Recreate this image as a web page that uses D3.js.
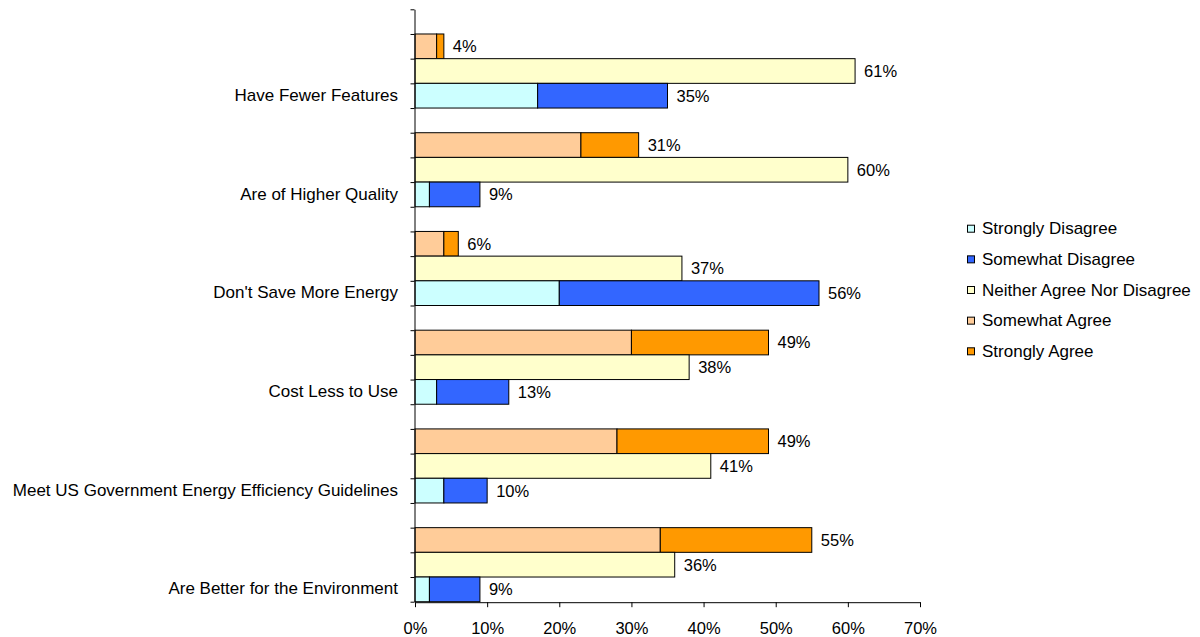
<!DOCTYPE html>
<html>
<head>
<meta charset="utf-8">
<script src="https://cdn.jsdelivr.net/npm/d3@7/dist/d3.min.js"></script>
<style>
  html, body { margin: 0; padding: 0; background: #fff; }
  svg { display: block; font-family: "Liberation Sans", Arial, sans-serif; }
</style>
</head>
<body>
<svg id="chart" width="1200" height="637"></svg>
<script>
// Survey statements, listed top to bottom
const categories = [
  "Have Fewer Features",
  "Are of Higher Quality",
  "Don't Save More Energy",
  "Cost Less to Use",
  "Meet US Government Energy Efficiency Guidelines",
  "Are Better for the Environment"
];

// Response shares (%) per statement
const stronglyDisagree = [17, 2, 20, 3, 4, 2];
const somewhatDisagree = [18, 7, 36, 10, 6, 7];
const neitherAgree     = [61, 60, 37, 38, 41, 36];
const somewhatAgree    = [3, 23, 4, 30, 28, 34];
const stronglyAgree    = [1, 8, 2, 19, 21, 21];

const seriesNames = ["Strongly Disagree", "Somewhat Disagree", "Neither Agree Nor Disagree", "Somewhat Agree", "Strongly Agree"];
const seriesColors = ["#CCFFFF", "#3366FF", "#FFFFCC", "#FFCC99", "#FF9900"];

const xTicks = [0, 10, 20, 30, 40, 50, 60, 70];

// Each statement occupies four rows: spacer, agree stack, neutral, disagree stack
const rowKinds = ["spacer", "agree", "neither", "disagree"];

const svg = d3.select("#chart");
const plotLeft = 415, plotRight = 920, plotTop = 9.3, plotBottom = 601.7;

const x = d3.scaleLinear().domain([0, 70]).range([plotLeft, plotRight]);
const rows = d3.scaleLinear().domain([0, categories.length * rowKinds.length]).range([plotTop, plotBottom]);
const rowH = rows(1) - rows(0);

// Build stacked segments
const segments = [];
const totals = [];
categories.forEach((c, i) => {
  const base = i * rowKinds.length;
  const stacks = {
    agree:    [[somewhatAgree[i], 3], [stronglyAgree[i], 4]],
    neither:  [[neitherAgree[i], 2]],
    disagree: [[stronglyDisagree[i], 0], [somewhatDisagree[i], 1]]
  };
  ["agree", "neither", "disagree"].forEach(kind => {
    const r = base + rowKinds.indexOf(kind);
    let acc = 0;
    stacks[kind].forEach(([v, s]) => {
      segments.push({ row: r, x0: acc, x1: acc + v, s });
      acc += v;
    });
    totals.push({ row: r, total: acc });
  });
});

svg.append("g").selectAll("rect")
  .data(segments)
  .join("rect")
  .attr("x", d => x(d.x0))
  .attr("y", d => rows(d.row))
  .attr("width", d => x(d.x1) - x(d.x0))
  .attr("height", rowH)
  .attr("fill", d => seriesColors[d.s])
  .attr("stroke", "#000")
  .attr("stroke-width", 1);

// Total labels at the end of each bar
svg.append("g").selectAll("text")
  .data(totals)
  .join("text")
  .attr("x", d => x(d.total) + 9)
  .attr("y", d => rows(d.row) + rowH / 2)
  .attr("dy", "0.36em")
  .attr("font-size", 16.5)
  .attr("fill", "#000")
  .text(d => d.total + "%");

// Category axis: ticks at every row boundary
const yAxis = svg.append("g")
  .attr("transform", `translate(${plotLeft - 0.5},0)`)
  .call(d3.axisLeft(rows)
    .tickValues(d3.range(categories.length * rowKinds.length + 1))
    .tickSize(4)
    .tickSizeOuter(0)
    .tickFormat(""));
yAxis.select(".domain").attr("stroke", "#000");
yAxis.selectAll(".tick line").attr("stroke", "#000");

svg.append("g").selectAll("text")
  .data(categories)
  .join("text")
  .attr("x", 398)
  .attr("y", (c, i) => rows(i * rowKinds.length + 3) + rowH / 2)
  .attr("dy", "0.3em")
  .attr("text-anchor", "end")
  .attr("font-size", 17)
  .attr("fill", "#000")
  .text(d => d);

// Value axis
const xAxis = svg.append("g")
  .attr("transform", `translate(0,${plotBottom + 0.5})`)
  .call(d3.axisBottom(x)
    .tickValues(xTicks)
    .tickSize(5)
    .tickSizeOuter(0)
    .tickPadding(15)
    .tickFormat(d => d + "%"));
xAxis.select(".domain").attr("stroke", "#000");
xAxis.selectAll(".tick line").attr("stroke", "#000");
xAxis.selectAll(".tick text")
  .attr("font-size", 16.5)
  .attr("font-family", "Liberation Sans, Arial, sans-serif")
  .attr("fill", "#000");

// Legend
const legend = svg.append("g").selectAll("g")
  .data(seriesNames)
  .join("g")
  .attr("transform", (d, i) => `translate(967,${228.7 + i * 30.65})`);
legend.append("rect")
  .attr("x", 0.5).attr("y", -3.5)
  .attr("width", 7).attr("height", 7)
  .attr("fill", (d, i) => seriesColors[i])
  .attr("stroke", "#000");
legend.append("text")
  .attr("x", 15)
  .attr("dy", "0.34em")
  .attr("font-size", 17)
  .attr("fill", "#000")
  .text(d => d);
</script>
</body>
</html>
